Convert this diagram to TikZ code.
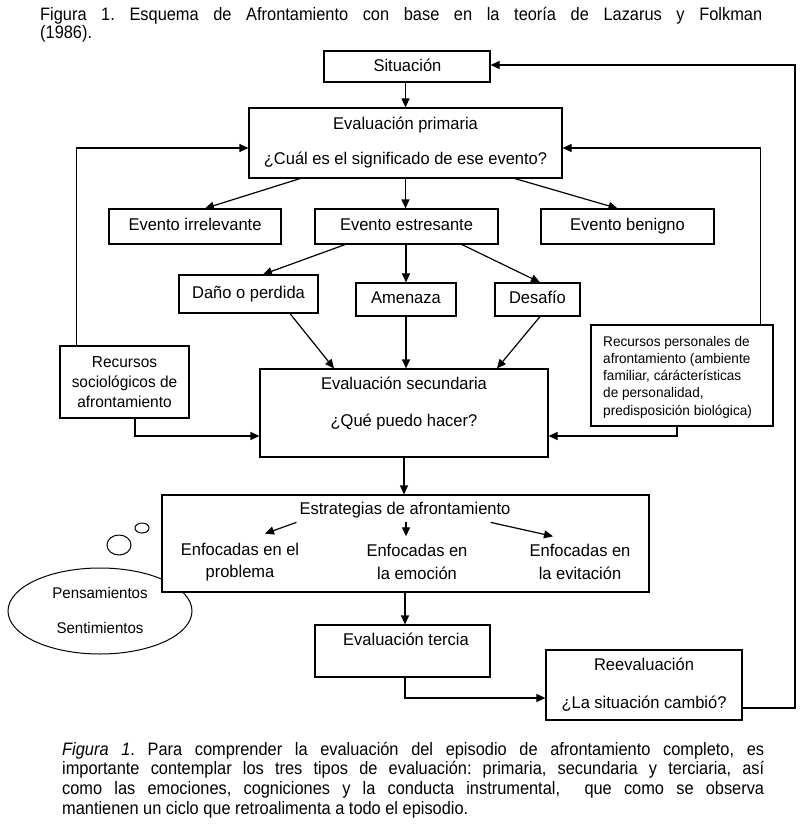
\documentclass[tikz,border=0pt]{standalone}
\usepackage{fontspec}
\setmainfont{Liberation Sans}
\newfontfamily\capfont[FakeStretch=0.91]{Liberation Sans}
\newfontfamily\boxfont[FakeStretch=0.97]{Liberation Sans}
\usetikzlibrary{arrows.meta,calc,shapes.geometric}
\frenchspacing
\begin{document}
\begin{tikzpicture}[x=1pt,y=-1pt,
  box/.style={draw, line width=1.2pt, inner sep=0pt, fill=white},
  lbl/.style={font=\boxfont\fontsize{17}{20}\selectfont, inner sep=0pt, anchor=mid},
  arr/.style={line width=1.2pt, -{Triangle[length=9pt,width=8pt]}},
  thinshape/.style={draw, line width=1pt, inner sep=0pt},
  captxt/.style={font=\capfont\fontsize{18}{20}\selectfont, inner sep=0pt, anchor=base west}
]
\useasboundingbox (0,0) rectangle (807,827);

% title
\node[captxt] (t1) at (40,20) {\makebox[722pt][s]{Figura 1. Esquema de Afrontamiento con base en la teoría de Lazarus y Folkman}};
\node[captxt] (t2) at (40,38) {(1986).};

% thought bubble (behind strategies box)
\node[thinshape, ellipse, minimum width=184pt, minimum height=86pt] (thought) at (100,611) {};
\node[thinshape, ellipse, minimum width=24pt, minimum height=20pt] (bub1) at (119,545) {};
\node[thinshape, ellipse, minimum width=14pt, minimum height=10pt] (bub2) at (142,528) {};
\node[lbl, font=\boxfont\fontsize{15.5}{18}\selectfont] (pens) at (100,596) {Pensamientos};
\node[lbl, font=\boxfont\fontsize{15.5}{18}\selectfont] (sent) at (100,631) {Sentimientos};

% boxes
\node[box, minimum width=166pt, minimum height=31pt] (sit) at (407,66.5) {};
\node[lbl] (sitt) at (407.5,68.5) {Situación};

\node[box, minimum width=313pt, minimum height=70pt] (ep) at (405.5,143) {};
\node[lbl] (ep1) at (405.5,127) {Evaluación primaria};
\node[lbl] (ep2) at (405.5,162) {¿Cuál es el significado de ese evento?};

\node[box, minimum width=172pt, minimum height=35pt] (irr) at (195,226.5) {};
\node[lbl] (irrt) at (195,227.5) {Evento irrelevante};
\node[box, minimum width=183pt, minimum height=35pt] (estr) at (406.5,226.5) {};
\node[lbl] (estrt) at (406.5,227.5) {Evento estresante};
\node[box, minimum width=173pt, minimum height=35pt] (ben) at (627.5,226.5) {};
\node[lbl] (bent) at (627.5,227.5) {Evento benigno};

\node[box, minimum width=139pt, minimum height=38pt] (dano) at (248.5,294) {};
\node[lbl] (danot) at (248.5,295.5) {Daño o perdida};
\node[box, minimum width=100pt, minimum height=33pt] (ame) at (406,299.5) {};
\node[lbl] (amet) at (406,301) {Amenaza};
\node[box, minimum width=85pt, minimum height=33pt] (des) at (537.5,299.5) {};
\node[lbl] (dest) at (537.5,301) {Desafío};

\node[box, minimum width=288pt, minimum height=88pt] (es) at (404,413) {};
\node[lbl] (es1) at (404,387) {Evaluación secundaria};
\node[lbl] (es2) at (404,423.5) {¿Qué puedo hacer?};

\node[box, minimum width=129pt, minimum height=72pt, align=center,
      font=\boxfont\fontsize{15.9}{20}\selectfont] (soc) at (124.5,382) {Recursos\\sociológicos de\\afrontamiento};

\node[box, minimum width=182pt, minimum height=101pt] (per) at (682,375.5) {};
\node[inner sep=0pt, anchor=west, align=left, font=\boxfont\fontsize{14}{17.2}\selectfont] (pert) at (603,377)
  {Recursos personales de\\afrontamiento (ambiente\\familiar, cárácterísticas\\de personalidad,\\predisposición biológica)};

\node[box, minimum width=487pt, minimum height=97pt] (strat) at (405.5,543.5) {};
\node[lbl] (stratt) at (405,512) {Estrategias de afrontamiento};
\node[inner sep=0pt, align=center, font=\boxfont\fontsize{17}{22.5}\selectfont] (enf1) at (240,562) {Enfocadas en el\\problema};
\node[inner sep=0pt, align=center, font=\boxfont\fontsize{17}{22.5}\selectfont] (enf2) at (417,562) {Enfocadas en\\la emoción};
\node[inner sep=0pt, align=center, font=\boxfont\fontsize{17}{22.5}\selectfont] (enf3) at (580,562) {Enfocadas en\\la evitación};

\node[box, minimum width=175pt, minimum height=52pt] (et) at (402.5,651) {};
\node[lbl] (ett) at (406,642.5) {Evaluación tercia};

\node[box, minimum width=196pt, minimum height=70pt] (re) at (644,685) {};
\node[lbl] (re1) at (644,667.5) {Reevaluación};
\node[lbl] (re2) at (644,706) {¿La situación cambió?};

% connectors
\draw[arr] (sit.south -| 405.5,0) -- (ep.north);
\draw[arr] ($(ep.south)+(-105.5,0)$) -- ($(irr.north)+(10,0)$);
\draw[arr] (ep.south) -- (ep.south |- estr.north);
\draw[arr] ($(ep.south)+(109.5,0)$) -- ($(ben.north)+(-10,0)$);

\draw[arr] ($(estr.south)+(-61.5,0)$) -- ($(dano.north)+(14.5,0)$);
\draw[arr] (estr.south -| ame.north) -- (ame.north);
\draw[arr] ($(estr.south)+(55.5,0)$) -- ($(des.north)+(2.5,0)$);

\draw[arr] ($(dano.south)+(41.5,0)$) -- ($(es.north)+(-70,0)$);
\draw[arr] (ame.south) -- (ame.south |- es.north);
\draw[arr] ($(des.south)+(2.5,0)$) -- ($(es.north)+(93,0)$);

\draw[arr] ($(soc.north west)+(17,0)$) |- ($(ep.west)+(0,5)$);
\draw[arr] ($(soc.south)+(10.5,0)$) |- ($(es.west)+(0,23)$);
\draw[arr] ($(per.north east)+(-13,0)$) |- ($(ep.east)+(0,5)$);
\draw[arr] ($(per.south)+(-5,0)$) |- ($(es.east)+(0,23)$);

\draw[arr] (es.south) -- (es.south |- strat.north);
\draw[arr] ($(stratt.south west)+(-3,4)$) -- ($(enf1.north)+(25,-9)$);
\draw[arr] ($(stratt.south -| 406,0)+(0,4)$) -- ($(enf2.north -| 406,0)+(0,-8)$);
\draw[arr] ($(stratt.south east)+(-20,4)$) -- ($(enf3.north)+(-27,-8)$);

\draw[arr] (strat.south -| 405,0) -- (et.north -| 405,0);
\draw[arr] (et.south -| 405,0) |- ($(re.west)+(0,13)$);

\coordinate (rloop) at (795,708);
\draw[arr] ($(re.east)+(0,23)$) -- (rloop) |- ($(sit.east)+(0,-1.5)$);

% caption
\node[captxt] (c1) at (62,755) {\makebox[702pt][s]{\textit{Figura 1}. Para comprender la evaluación del episodio de afrontamiento completo, es}};
\node[captxt] (c2) at (62,774.7) {\makebox[702pt][s]{importante contemplar los tres tipos de evaluación: primaria, secundaria y terciaria, así}};
\node[captxt] (c3) at (62,794.4) {\makebox[702pt][s]{como las emociones, cogniciones y la conducta instrumental,\ \ que como se observa}};
\node[captxt] (c4) at (62,814) {mantienen un ciclo que retroalimenta a todo el episodio.};
\end{tikzpicture}
\end{document}
